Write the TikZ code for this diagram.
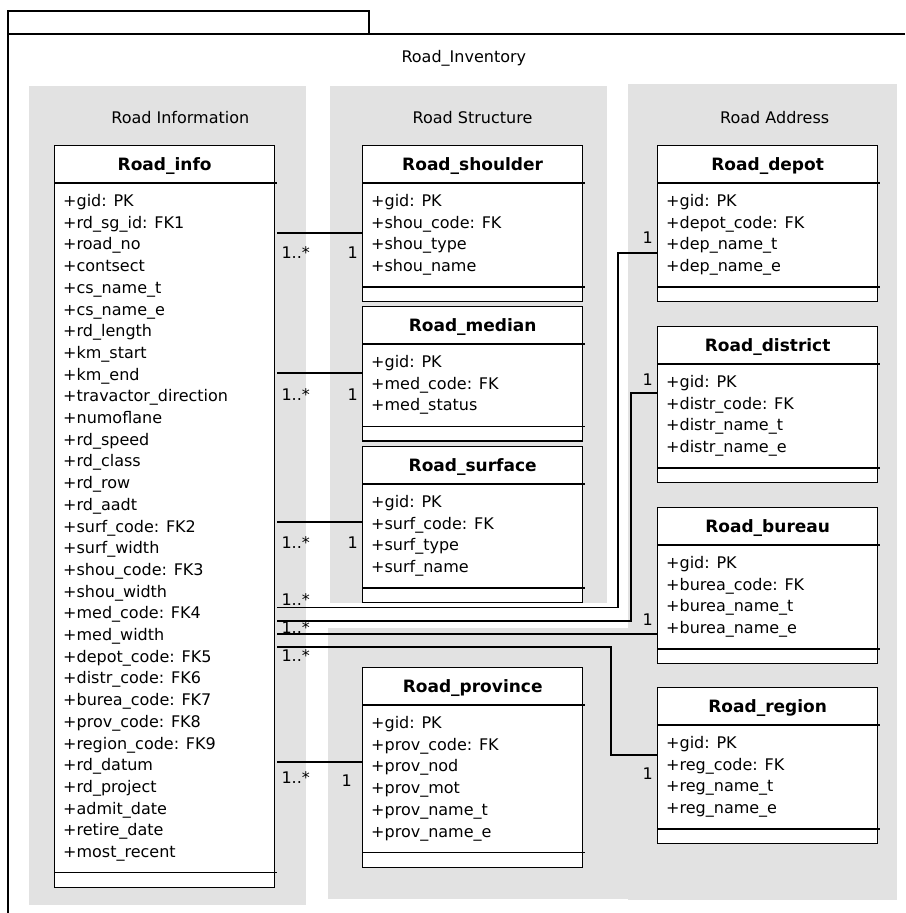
\documentclass[tikz,border=0pt]{standalone}
\usepackage{fontspec}
\setmainfont{DejaVu Sans}
\usetikzlibrary{calc}
\definecolor{panelgray}{RGB}{226,226,226}
\tikzset{
  frameline/.style={draw=black, line width=1.3pt},
  panel/.style={fill=panelgray, draw=none},
  classbox/.style={rectangle, draw=black, line width=1.3pt, fill=white, minimum width=220pt, inner sep=0pt},
  classline/.style={draw=black, line width=1.3pt},
  classtitle/.style={font=\fontsize{17}{20}\selectfont\bfseries, inner sep=0pt, anchor=base},
  attr/.style={font=\fontsize{16}{19}\selectfont, inner sep=0pt, anchor=base west},
  paneltitle/.style={font=\fontsize{16}{19}\selectfont, inner sep=0pt, anchor=base},
  conn/.style={draw=black, line width=1.3pt},
  mult/.style={font=\fontsize{16}{19}\selectfont, inner sep=0pt},
}
% UML class: name, top-left corner, title, number of attributes, attribute list
\newcommand{\umlclass}[5]{%
  \pgfmathsetmacro{\classh}{38+19+(#4-1)*21.7+18.5+15.5}%
  \node[classbox, minimum height=\classh pt, anchor=north west] (#1) at (#2) {};
  \draw[classline] ($(#1.north west)+(0,38)$) -- ($(#1.north east)+(1.5,38)$);
  \draw[classline] ($(#1.south west)+(0,-15.5)$) -- ($(#1.south east)+(1.5,-15.5)$);
  \node[classtitle] (#1-title) at ($(#1.north)+(0,25)$) {#3};
  \foreach \row [count=\i from 0] in {#5} {
    \node[attr] (#1-a\i) at ($(#1.north west)+(9,61.5+\i*21.7)$) {\row};
  }%
}
\begin{document}
\begin{tikzpicture}[x=1pt, y=-1pt]
\useasboundingbox (0,0) rectangle (905,913);
\fill[white] (0,0) rectangle (905,913);

% package frame
\draw[frameline] (8,11) rectangle (369,34);
\draw[frameline] (905,34) -- (8,34) -- (8,913);
\node[paneltitle] (pkg) at (463.8,62) {Road\_Inventory};

% grouping panels
\fill[panel] (29,86) rectangle (306,905);
\fill[panel] (330,86) rectangle (607,603);
\fill[panel] (628,84) rectangle (897,900);
\fill[panel] (328,628) rectangle (629,899);
\node[paneltitle] (p-info) at (180.3,123) {Road Information};
\node[paneltitle] (p-struct) at (472.5,123) {Road Structure};
\node[paneltitle] (p-addr) at (774.7,123) {Road Address};

% classes
\umlclass{info}{54,145}{Road\_info}{31}{+gid: PK, +rd\_sg\_id: FK1, +road\_no, +contsect, +cs\_name\_t, +cs\_name\_e, +rd\_length, +km\_start, +km\_end, +travactor\_direction, +numoflane, +rd\_speed, +rd\_class, +rd\_row, +rd\_aadt, +surf\_code: FK2, +surf\_width, +shou\_code: FK3, +shou\_width, +med\_code: FK4, +med\_width, +depot\_code: FK5, +distr\_code: FK6, +burea\_code: FK7, +prov\_code: FK8, +region\_code: FK9, +rd\_datum, +rd\_project, +admit\_date, +retire\_date, +most\_recent}
\umlclass{shoulder}{362,145}{Road\_shoulder}{4}{+gid: PK, +shou\_code: FK, +shou\_type, +shou\_name}
\umlclass{median}{362,306}{Road\_median}{3}{+gid: PK, +med\_code: FK, +med\_status}
\umlclass{surface}{362,446}{Road\_surface}{4}{+gid: PK, +surf\_code: FK, +surf\_type, +surf\_name}
\umlclass{province}{362,667}{Road\_province}{6}{+gid: PK, +prov\_code: FK, +prov\_nod, +prov\_mot, +prov\_name\_t, +prov\_name\_e}
\umlclass{depot}{657,145}{Road\_depot}{4}{+gid: PK, +depot\_code: FK, +dep\_name\_t, +dep\_name\_e}
\umlclass{district}{657,326}{Road\_district}{4}{+gid: PK, +distr\_code: FK, +distr\_name\_t, +distr\_name\_e}
\umlclass{bureau}{657,507}{Road\_bureau}{4}{+gid: PK, +burea\_code: FK, +burea\_name\_t, +burea\_name\_e}
\umlclass{region}{657,687}{Road\_region}{4}{+gid: PK, +reg\_code: FK, +reg\_name\_t, +reg\_name\_e}

% attachment points on the target classes
\coordinate (c-sh) at ($(shoulder.north west)+(0,88)$);
\coordinate (c-me) at ($(median.north west)+(0,67)$);
\coordinate (c-su) at ($(surface.north west)+(0,76)$);
\coordinate (c-pr) at ($(province.north west)+(0,95)$);
\coordinate (c-de) at ($(depot.north west)+(0,108)$);
\coordinate (c-di) at ($(district.north west)+(0,67)$);
\coordinate (c-bu) at ($(bureau.north west)+(0,127)$);
\coordinate (c-re) at ($(region.north west)+(0,68)$);
% attachment points on Road_info
\coordinate (i-de) at ($(info.north east)+(2,462.7)$);
\coordinate (i-di) at ($(info.north east)+(2,476)$);
\coordinate (i-bu) at ($(info.north east)+(2,489)$);
\coordinate (i-re) at ($(info.north east)+(2,502)$);

% associations
\draw[conn] ($(c-sh -| info.east)+(2,0)$) -- (c-sh);
\draw[conn] ($(c-me -| info.east)+(2,0)$) -- (c-me);
\draw[conn] ($(c-su -| info.east)+(2,0)$) -- (c-su);
\draw[conn] ($(c-pr -| info.east)+(2,0)$) -- (c-pr);
\draw[conn] (i-de) -| ($(c-de)+(-39,0)$) -- (c-de);
\draw[conn] (i-di) -| ($(c-di)+(-26,0)$) -- (c-di);
\draw[conn] (i-bu) -- (c-bu);
\draw[conn] (i-re) -| ($(c-re)+(-46,0)$) -- (c-re);

% multiplicities
\node[mult, anchor=base west] (l-sh-n) at ($(c-sh -| info.east)+(6,25)$) {1..*};
\node[mult, anchor=base east] (l-sh-1) at ($(c-sh)+(-4,25)$) {1};
\node[mult, anchor=base west] (l-me-n) at ($(c-me -| info.east)+(6,27)$) {1..*};
\node[mult, anchor=base east] (l-me-1) at ($(c-me)+(-4,27)$) {1};
\node[mult, anchor=base west] (l-su-n) at ($(c-su -| info.east)+(6,26)$) {1..*};
\node[mult, anchor=base east] (l-su-1) at ($(c-su)+(-4,26)$) {1};
\node[mult, anchor=base west] (l-pr-n) at ($(c-pr -| info.east)+(6,21)$) {1..*};
\node[mult, anchor=base east] (l-pr-1) at ($(c-pr)+(-10,24)$) {1};
\node[mult, anchor=base west] (l-de-n) at ($(i-de)+(4,-2)$) {1..*};
\node[mult, anchor=base west] (l-di-n) at ($(i-di)+(4,12)$) {1..*};
\node[mult, anchor=base west] (l-re-n) at ($(i-re)+(4,14)$) {1..*};
\node[mult, anchor=base east] (l-de-1) at ($(c-de)+(-4,-10)$) {1};
\node[mult, anchor=base east] (l-di-1) at ($(c-di)+(-4,-8)$) {1};
\node[mult, anchor=base east] (l-bu-1) at ($(c-bu)+(-4,-9)$) {1};
\node[mult, anchor=base east] (l-re-1) at ($(c-re)+(-4,24)$) {1};
\end{tikzpicture}
\end{document}
